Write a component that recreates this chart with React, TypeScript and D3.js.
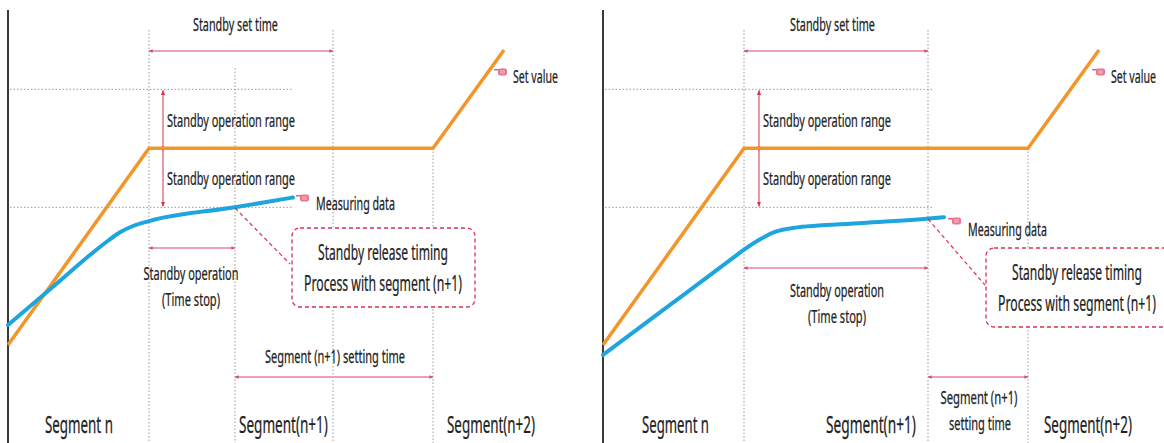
import React from 'react';
import * as d3 from 'd3';

const W = 1164;
const H = 443;

// ---- data (time units / value units) ----
const setTime = [0, 141, 425, 496];
const setValue = [0, 100, 100, 150];
const measTimeL = [0, 50, 85, 100, 112, 125, 141, 227, 285];
const measValL = [10.2, 31.8, 47, 53, 57.3, 60.5, 63, 70, 75];
const measTimeR = [0, 70, 130, 141, 158, 172, 190, 260, 326, 341];
const measValR = [-5, 21.5, 44.3, 48.5, 54, 57.5, 59.5, 62, 64.3, 65];
const rangeLimits = [130, 70];
const plateauValue = 100;
const standbyStart = 141;
const standbyEnd = 325;
const segmentEnd = 425;
const releaseTimeL = 227;
const releaseTimeR = 325;
const segmentLabels = ['Segment n', 'Segment(n+1)', 'Segment(n+2)'];

const FONT = "'Noto Sans', 'Open Sans', 'DejaVu Sans', sans-serif";
const TXT = '#222';
const ORANGE = '#f39629';
const BLUE = '#1fa5de';
const PINK = '#eba3b2';
const RED = '#d8324f';
const GRID = '#9a9a9a';

let ctx: CanvasRenderingContext2D | null = null;
const measure = (s: string, size: number) => {
  if (!ctx && typeof document !== 'undefined') ctx = document.createElement('canvas').getContext('2d');
  if (!ctx) return s.length * size * 0.55;
  ctx.font = `${size}px ${FONT}`;
  return ctx.measureText(s).width;
};

type TProps = { x: number; y: number; w: number; size?: number; anchor?: 'start' | 'middle'; children: string };
const T = ({ x, y, w, size = 18.5, anchor = 'start', children }: TProps) => {
  const sx = w / measure(children, size);
  return (
    <g transform={`translate(${x},${y}) scale(${sx},1)`}>
      <text x={0} y={0} fontSize={size} fontFamily={FONT} fill={TXT} stroke={TXT} strokeWidth={0.25}
        textAnchor={anchor}>{children}</text>
    </g>
  );
};

const Hand = ({ x, y }: { x: number; y: number }) => (
  <g transform={`translate(${x},${y})`} stroke="none">
    <rect x={-6} y={-3} width={5} height={1.6} rx={0.7} fill="#e0607a" />
    <rect x={-2} y={-3.6} width={9} height={7} rx={1.8} fill="#e8778e" />
    <line x1={0} x2={5} y1={-1} y2={-1} stroke="#fff" strokeWidth={0.8} opacity={0.7} />
    <line x1={0} x2={5} y1={1} y2={1} stroke="#fff" strokeWidth={0.8} opacity={0.7} />
  </g>
);

type PanelProps = {
  ox: number;
  measT: number[];
  measV: number[];
  release: number;
  gridEnd: number;
  vlines: { t: number; top: number }[];
  redArrowDx: number;
  opArrow: { y: number; t0: number; t1: number };
  segArrow: { y: number; t0: number; t1: number };
  leaderEnd: [number, number];
  leaderStartY: number;
  box: { x: number; y: number; w: number; h: number };
  boxText: { cx: number; y1: number; y2: number };
  opText: { cx: number; y1: number; y2: number; w1: number };
  setTimeText: { x: number };
  measLabel: { x: number; y: number; hx: number; hy: number };
  setLabel: { x: number; hx: number };
  segText: React.ReactNode;
  segLabelPos: { x: number; w: number }[];
};

const Panel = (p: PanelProps) => {
  const x = d3.scaleLinear().domain([0, 570]).range([p.ox, p.ox + 570]);
  const y = d3.scaleLinear().domain([0, 150]).range([345, 50]);
  const orangeLine = d3.line<number>().x((_, i) => x(setTime[i])).y((d) => y(d))(setValue) || '';
  const blueLine = d3.line<number>().x((_, i) => x(p.measT[i])).y((d) => y(d)).curve(d3.curveMonotoneX)(p.measV) || '';
  const rx = p.ox + p.redArrowDx;
  return (
    <g>
      <line x1={p.ox} x2={p.ox} y1={10} y2={H} stroke="#3a3a3a" strokeWidth={2} />
      {rangeLimits.map((v) => (
        <line key={v} x1={p.ox + 2} x2={x(p.gridEnd)} y1={y(v)} y2={y(v)} stroke={GRID} strokeWidth={1} strokeDasharray="1.5,2" />
      ))}
      {p.vlines.map((d) => (
        <line key={d.t} x1={x(d.t)} x2={x(d.t)} y1={d.top} y2={H} stroke={GRID} strokeWidth={1} strokeDasharray="1.5,2" />
      ))}
      <line x1={x(standbyStart)} x2={x(standbyEnd)} y1={51} y2={51} stroke={PINK} strokeWidth={2}
        markerStart="url(#ah)" markerEnd="url(#ah)" />
      <T x={p.setTimeText.x} y={31} w={85}>Standby set time</T>
      <line x1={rx} x2={rx} y1={y(rangeLimits[0]) + 1} y2={y(rangeLimits[1]) - 1} stroke={RED} strokeWidth={1}
        markerStart="url(#rh)" markerEnd="url(#rh)" />
      <circle cx={rx} cy={y(plateauValue)} r={2.2} fill={RED} />
      <T x={rx + 4} y={127} w={128}>Standby operation range</T>
      <T x={rx + 4} y={185} w={128}>Standby operation range</T>
      <path d={orangeLine} fill="none" stroke={ORANGE} strokeWidth={3.5} strokeLinejoin="miter" />
      <path d={blueLine} fill="none" stroke={BLUE} strokeWidth={4} strokeLinecap="round" />
      <Hand x={p.setLabel.hx} y={72} />
      <T x={p.setLabel.x} y={83} w={45}>Set value</T>
      <Hand x={p.measLabel.hx} y={p.measLabel.hy} />
      <T x={p.measLabel.x} y={p.measLabel.y} w={79}>Measuring data</T>
      <line x1={x(p.release)} y1={p.leaderStartY} x2={p.leaderEnd[0]} y2={p.leaderEnd[1]} stroke={RED} strokeWidth={1.2} strokeDasharray="4,3" />
      <rect x={p.box.x} y={p.box.y} width={p.box.w} height={p.box.h} rx={8} fill="#fff" stroke={RED} strokeWidth={1.3} strokeDasharray="4,3" />
      <T x={p.boxText.cx} y={p.boxText.y1} w={130} size={21.5} anchor="middle">Standby release timing</T>
      <T x={p.boxText.cx} y={p.boxText.y2} w={158} size={21.5} anchor="middle">Process with segment (n+1)</T>
      <line x1={x(p.opArrow.t0)} x2={x(p.opArrow.t1)} y1={p.opArrow.y} y2={p.opArrow.y} stroke={PINK} strokeWidth={2}
        markerStart="url(#ah)" markerEnd="url(#ah)" />
      <T x={p.opText.cx} y={p.opText.y1} w={p.opText.w1} anchor="middle">Standby operation</T>
      <T x={p.opText.cx} y={p.opText.y2} w={58} anchor="middle">(Time stop)</T>
      <line x1={x(p.segArrow.t0)} x2={x(p.segArrow.t1)} y1={p.segArrow.y} y2={p.segArrow.y} stroke={PINK} strokeWidth={2}
        markerStart="url(#ah)" markerEnd="url(#ah)" />
      {p.segText}
      {segmentLabels.map((s, i) => (
        <T key={s} x={p.segLabelPos[i].x} y={433} w={p.segLabelPos[i].w} size={24}>{s}</T>
      ))}
    </g>
  );
};

export default function App() {
  return (
    <svg width={W} height={H} style={{ position: 'absolute', left: 0, top: 0, background: '#fff' }}>
      <defs>
        <marker id="ah" viewBox="0 0 6 6" refX={5.5} refY={3} markerWidth={4} markerHeight={4} orient="auto-start-reverse" markerUnits="userSpaceOnUse">
          <path d="M0,0.5 L6,3 L0,5.5 Z" fill="#c9566e" />
        </marker>
        <marker id="rh" viewBox="0 0 6 6" refX={5.5} refY={3} markerWidth={5} markerHeight={5} orient="auto-start-reverse" markerUnits="userSpaceOnUse">
          <path d="M0,0.5 L6,3 L0,5.5 Z" fill={RED} />
        </marker>
      </defs>
      <rect x={0} y={0} width={W} height={H} fill="#fff" />
      <Panel
        ox={8}
        measT={measTimeL}
        measV={measValL}
        release={releaseTimeL}
        gridEnd={285}
        vlines={[{ t: standbyStart, top: 30 }, { t: releaseTimeL, top: 68 }, { t: standbyEnd, top: 30 }, { t: segmentEnd, top: 148 }]}
        redArrowDx={155}
        opArrow={{ y: 248, t0: standbyStart, t1: releaseTimeL }}
        segArrow={{ y: 377, t0: releaseTimeL, t1: segmentEnd }}
        leaderStartY={208}
        leaderEnd={[290, 264]}
        box={{ x: 292, y: 228, w: 183, h: 79 }}
        boxText={{ cx: 383, y1: 260, y2: 291 }}
        opText={{ cx: 191, y1: 280, y2: 306, w1: 95 }}
        setTimeText={{ x: 193 }}
        measLabel={{ x: 316, y: 210, hx: 302, hy: 198 }}
        setLabel={{ x: 513, hx: 500 }}
        segText={<T x={265} y={363} w={140}>Segment (n+1) setting time</T>}
        segLabelPos={[{ x: 45, w: 68 }, { x: 239, w: 89 }, { x: 447, w: 88 }]}
      />
      <Panel
        ox={603}
        measT={measTimeR}
        measV={measValR}
        release={releaseTimeR}
        gridEnd={331}
        vlines={[{ t: standbyStart, top: 30 }, { t: standbyEnd, top: 30 }, { t: segmentEnd, top: 148 }]}
        redArrowDx={156}
        opArrow={{ y: 268, t0: standbyStart, t1: releaseTimeR }}
        segArrow={{ y: 377, t0: releaseTimeR, t1: segmentEnd }}
        leaderStartY={219}
        leaderEnd={[985, 285]}
        box={{ x: 986, y: 248, w: 200, h: 79 }}
        boxText={{ cx: 1077, y1: 280, y2: 311 }}
        opText={{ cx: 837, y1: 297, y2: 323, w1: 94 }}
        setTimeText={{ x: 790 }}
        measLabel={{ x: 968, y: 236, hx: 954, hy: 221 }}
        setLabel={{ x: 1111, hx: 1098 }}
        segText={
          <g>
            <T x={979} y={404} w={77} anchor="middle">Segment (n+1)</T>
            <T x={980} y={430} w={62} anchor="middle">setting time</T>
          </g>
        }
        segLabelPos={[{ x: 642, w: 67 }, { x: 826, w: 90 }, { x: 1044, w: 88 }]}
      />
    </svg>
  );
}
